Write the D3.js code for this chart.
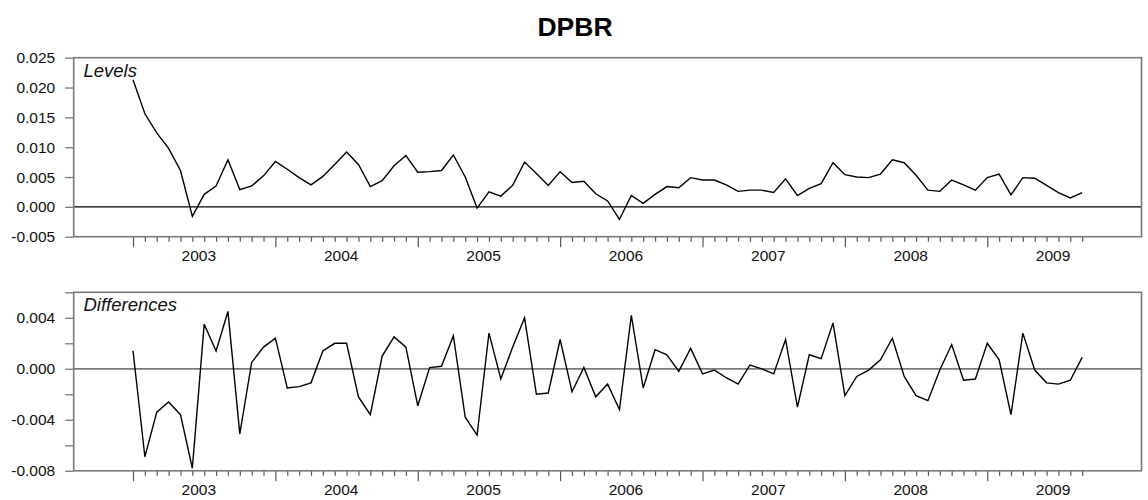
<!DOCTYPE html>
<html>
<head>
<meta charset="utf-8">
<script src="https://cdn.jsdelivr.net/npm/d3@7"></script>
<style>
  html, body { margin: 0; padding: 0; background: #fff; }
  svg { display: block; font-family: "Liberation Sans", Arial, sans-serif; }
</style>
</head>
<body>
<svg id="chart" width="1148" height="500"></svg>
<script>
// ---- data (monthly observations, index 0..80) ----
const title = "DPBR";
const yearLabels = ["2003", "2004", "2005", "2006", "2007", "2008", "2009"];
const levels = [
  0.0213, 0.0156, 0.0124, 0.0098, 0.0061, -0.0016, 0.0021, 0.0035, 0.0079, 0.0029,
  0.0035, 0.0052, 0.0076, 0.0063, 0.0049, 0.0037, 0.0051, 0.0071, 0.0092, 0.0071,
  0.0034, 0.0044, 0.0069, 0.0086, 0.0058, 0.0059, 0.0061, 0.0087, 0.0050, -0.0002,
  0.0025, 0.0018, 0.0036, 0.0075, 0.0056, 0.0036, 0.0059, 0.0041, 0.0043, 0.0022,
  0.0010, -0.0021, 0.0019, 0.0006, 0.0021, 0.0034, 0.0032, 0.0049, 0.0045, 0.0045,
  0.0037, 0.0026, 0.0028, 0.0028, 0.0024, 0.0047, 0.0019, 0.0031, 0.0039, 0.0074,
  0.0054, 0.0050, 0.0049, 0.0055, 0.0079, 0.0074, 0.0053, 0.0028, 0.0026, 0.0045,
  0.0037, 0.0028, 0.0049, 0.0055, 0.0020, 0.0049, 0.0048, 0.0036, 0.0024, 0.0015,
  0.0024
];
const differences = [
  0.0014, -0.0069, -0.0034, -0.0026, -0.0036, -0.0078, 0.0035, 0.0014, 0.0045, -0.0051,
  0.0005, 0.0017, 0.0024, -0.0015, -0.0014, -0.0011, 0.0014, 0.0020, 0.0020, -0.0022,
  -0.0036, 0.0010, 0.0025, 0.0017, -0.0029, 0.0001, 0.0002, 0.0026, -0.0038, -0.0052,
  0.0028, -0.0008, 0.0017, 0.0040, -0.0020, -0.0019, 0.0023, -0.0018, 0.0001, -0.0022,
  -0.0012, -0.0032, 0.0042, -0.0015, 0.0015, 0.0011, -0.0002, 0.0016, -0.0004, -0.0001,
  -0.0007, -0.0012, 0.0003, 0.0000, -0.0004, 0.0023, -0.0030, 0.0011, 0.0008, 0.0036,
  -0.0021, -0.0006, -0.0001, 0.0007, 0.0024, -0.0006, -0.0021, -0.0025, -0.0001, 0.0019,
  -0.0009, -0.0008, 0.0020, 0.0007, -0.0036, 0.0028, -0.0001, -0.0011, -0.0012, -0.0009,
  0.0009
];
const levelTicks = [-0.005, 0.000, 0.005, 0.010, 0.015, 0.020, 0.025];
const diffTicks = [-0.008, -0.006, -0.004, -0.002, 0.000, 0.002, 0.004, 0.006];
const diffLabelTicks = [-0.008, -0.004, 0.000, 0.004];

// ---- layout ----
const svg = d3.select("#chart");
const frameColor = "#7a7a7a";
const x = d3.scaleLinear().domain([-5, 85]).range([73.7, 1141.5]);

svg.append("text")
  .attr("x", 575).attr("y", 35.5)
  .attr("text-anchor", "middle")
  .attr("font-size", 26.5).attr("font-weight", "bold")
  .text(title);

function panel(cfg) {
  const y = d3.scaleLinear().domain(cfg.domain).range([cfg.bottom, cfg.top]);
  const g = svg.append("g");

  // y axis (ticks + labels)
  const yAxis = d3.axisLeft(y)
    .tickValues(cfg.ticks)
    .tickSize(8.5)
    .tickPadding(10)
    .tickFormat(d => cfg.labels.some(v => Math.abs(v - d) < 1e-9) ? d3.format(".3f")(d).replace("−", "-") : "");
  const ya = g.append("g").attr("transform", `translate(${x.range()[0]},0)`).call(yAxis);
  ya.select(".domain").remove();
  ya.selectAll(".tick line").attr("stroke", frameColor).attr("stroke-width", 1.3);
  ya.selectAll(".tick text").attr("font-size", 15.5).attr("fill", "#111")
    .attr("font-family", '"Liberation Sans", Arial, sans-serif');

  // x axis: minor monthly ticks and major yearly ticks
  const monthIdx = d3.range(0, levels.length);
  const xMinor = d3.axisBottom(x).tickValues(monthIdx.filter(i => i % 12 !== 0)).tickSize(5).tickFormat("");
  const xMajor = d3.axisBottom(x).tickValues(monthIdx.filter(i => i % 12 === 0)).tickSize(10.5).tickFormat("");
  [xMinor, xMajor].forEach(ax => {
    const a = g.append("g").attr("transform", `translate(0,${cfg.bottom})`).call(ax);
    a.select(".domain").remove();
    a.selectAll(".tick line").attr("stroke", "#555").attr("stroke-width", 1.2);
  });
  const xLab = d3.axisBottom(x)
    .tickValues(yearLabels.map((_, k) => 5.5 + 12 * k))
    .tickSize(0).tickPadding(13)
    .tickFormat((d, k) => yearLabels[k]);
  const xl = g.append("g").attr("transform", `translate(0,${cfg.bottom})`).call(xLab);
  xl.select(".domain").remove();
  xl.selectAll(".tick text").attr("font-size", 15.5).attr("fill", "#111")
    .attr("font-family", '"Liberation Sans", Arial, sans-serif');

  // zero line
  g.append("line")
    .attr("x1", x.range()[0]).attr("x2", x.range()[1])
    .attr("y1", y(0)).attr("y2", y(0))
    .attr("stroke", cfg.zeroColor).attr("stroke-width", cfg.zeroWidth);

  // series
  const line = d3.line().x((d, i) => x(i)).y(d => y(d));
  g.append("path").datum(cfg.data)
    .attr("d", line).attr("fill", "none")
    .attr("stroke", "#000").attr("stroke-width", 1.4)
    .attr("stroke-linejoin", "miter");

  // frame
  g.append("rect")
    .attr("x", x.range()[0]).attr("y", cfg.top)
    .attr("width", x.range()[1] - x.range()[0]).attr("height", cfg.bottom - cfg.top)
    .attr("fill", "none").attr("stroke", frameColor).attr("stroke-width", 1.6);

  // panel label
  g.append("text")
    .attr("x", 83.5).attr("y", cfg.top + cfg.labelDy)
    .attr("font-size", 18.5).attr("font-style", "italic").attr("fill", "#111")
    .text(cfg.label);
}

panel({
  data: levels, domain: [-0.005, 0.025], top: 57.7, bottom: 236.7,
  ticks: levelTicks, labels: levelTicks, label: "Levels", labelDy: 19,
  zeroColor: "#000", zeroWidth: 1.1
});
panel({
  data: differences, domain: [-0.008, 0.006], top: 292.3, bottom: 470.8,
  ticks: diffTicks, labels: diffLabelTicks, label: "Differences", labelDy: 18.5,
  zeroColor: frameColor, zeroWidth: 1.8
});
</script>
</body>
</html>
